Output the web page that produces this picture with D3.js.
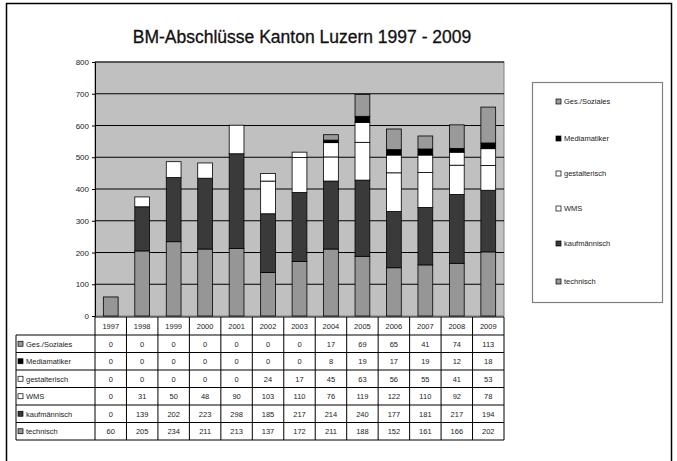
<!DOCTYPE html>
<html><head><meta charset="utf-8">
<script src="https://cdn.jsdelivr.net/npm/d3@7"></script>
<style>body{margin:0;background:#fff;}svg{display:block;font-family:"Liberation Sans",Arial,sans-serif;}</style>
</head><body>
<script>
const years = ["1997","1998","1999","2000","2001","2002","2003","2004","2005","2006","2007","2008","2009"];
const technisch   = [60, 205, 234, 211, 213, 137, 172, 211, 188, 152, 161, 166, 202];
const kaufm       = [0, 139, 202, 223, 298, 185, 217, 214, 240, 177, 181, 217, 194];
const wms         = [0, 31, 50, 48, 90, 103, 110, 76, 119, 122, 110, 92, 78];
const gestalt     = [0, 0, 0, 0, 0, 24, 17, 45, 63, 56, 55, 41, 53];
const mediamatik  = [0, 0, 0, 0, 0, 0, 0, 8, 19, 17, 19, 12, 18];
const gesSoz      = [0, 0, 0, 0, 0, 0, 0, 17, 69, 65, 41, 74, 113];
const seriesNames = ["technisch","kaufmännisch","WMS","gestalterisch","Mediamatiker","Ges./Soziales"];
const seriesVals  = [technisch, kaufm, wms, gestalt, mediamatik, gesSoz];
const yTicks = [0,100,200,300,400,500,600,700,800];
const title = "BM-Abschlüsse Kanton Luzern 1997 - 2009";

const colors = ["#969696","#3a3a3a","#ffffff","#ffffff","#000000","#9a9a9a"];

const W=677,H=461;
const svg=d3.select("body").append("svg").attr("width",W).attr("height",H);
svg.append("rect").attr("x",6.5).attr("y",3.5).attr("width",665).attr("height",470).attr("fill","#fff").attr("stroke","#000").attr("stroke-width",1.5);

const plot={l:95,r:504,t:62,b:316};
const x=d3.scaleBand().domain(years).range([plot.l,plot.r]).paddingInner(0).paddingOuter(0);
const y=d3.scaleLinear().domain([0,800]).range([plot.b,plot.t]);

svg.append("text").attr("x",302).attr("y",43).attr("text-anchor","middle").attr("font-size",17.5).attr("font-weight","normal").attr("stroke","#111").attr("stroke-width",0.3).attr("fill","#111").text(title);

svg.append("rect").attr("x",plot.l).attr("y",plot.t).attr("width",plot.r-plot.l).attr("height",plot.b-plot.t).attr("fill","#c0c0c0").attr("stroke","#808080");
svg.append("g").selectAll("line").data(yTicks.slice(1)).join("line")
  .attr("x1",plot.l).attr("x2",plot.r).attr("y1",d=>y(d)).attr("y2",d=>y(d)).attr("stroke","#000").attr("stroke-width",1);
const yAxis=d3.axisLeft(y).tickValues(yTicks).tickSize(3).tickPadding(3);
const ga=svg.append("g").attr("transform",`translate(${plot.l},0)`).call(yAxis);
ga.selectAll("text").attr("font-size",8).attr("font-family","Liberation Sans, Arial").attr("fill","#222");
ga.select(".domain").attr("stroke","#000");

const tableData = years.map((yr,i)=>{const o={year:yr};seriesNames.forEach((n,k)=>o[n]=seriesVals[k][i]);return o;});
const stack=d3.stack().keys(seriesNames)(tableData);
const bw=x.bandwidth()*0.47;
stack.forEach((s,k)=>{
  svg.append("g").selectAll("rect").data(s.filter(d=>d[1]-d[0]>0)).join("rect")
    .attr("x",d=>x(d.data.year)+(x.bandwidth()-bw)/2).attr("width",bw)
    .attr("y",d=>y(d[1])).attr("height",d=>y(d[0])-y(d[1]))
    .attr("fill",colors[k]).attr("stroke","#000").attr("stroke-width",0.8);
});

const tTop=317, hdrH=18, rowH=17.5, tLeft=16;
const rows=seriesNames.slice().reverse();
const tBottom=tTop+hdrH+rowH*rows.length;
const tg=svg.append("g");
years.forEach(yr=>{
  tg.append("text").attr("x",x(yr)+x.bandwidth()/2).attr("y",tTop+hdrH/2+3).attr("text-anchor","middle").attr("font-size",7.5).attr("fill","#222").text(yr);
});
rows.forEach((n,r)=>{
  const yy=tTop+hdrH+r*rowH;
  const k=seriesNames.indexOf(n);
  tg.append("rect").attr("x",tLeft+2).attr("y",yy+rowH/2-2.5).attr("width",5).attr("height",5).attr("fill",colors[k]).attr("stroke","#000").attr("stroke-width",0.7);
  tg.append("text").attr("x",tLeft+10).attr("y",yy+rowH/2+3).attr("font-size",7.5).attr("fill","#222").text(n);
  years.forEach((yr,i)=>{
    tg.append("text").attr("x",x(yr)+x.bandwidth()/2).attr("y",yy+rowH/2+3).attr("text-anchor","middle").attr("font-size",7.5).attr("fill","#222").text(seriesVals[k][i]);
  });
});
const hl=[tTop+hdrH].concat(rows.map((_,r)=>tTop+hdrH+(r+1)*rowH));
hl.forEach(yy=>tg.append("line").attr("x1",tLeft).attr("x2",plot.r).attr("y1",yy).attr("y2",yy).attr("stroke","#000"));
tg.append("line").attr("x1",plot.l).attr("x2",plot.r).attr("y1",tTop).attr("y2",tTop).attr("stroke","#000");
years.forEach(yr=>tg.append("line").attr("x1",x(yr)).attr("x2",x(yr)).attr("y1",tTop).attr("y2",tBottom).attr("stroke","#000"));
tg.append("line").attr("x1",plot.r).attr("x2",plot.r).attr("y1",tTop).attr("y2",tBottom).attr("stroke","#000");
tg.append("line").attr("x1",tLeft).attr("x2",tLeft).attr("y1",tTop+hdrH).attr("y2",tBottom).attr("stroke","#000");

const lg=svg.append("g");
lg.append("rect").attr("x",532.5).attr("y",82.5).attr("width",130).attr("height",220).attr("fill","#fff").attr("stroke","#808080").attr("stroke-width",1.2);
const legY=[102,139,174,209,244,282];
rows.forEach((n,r)=>{
  const k=seriesNames.indexOf(n);
  lg.append("rect").attr("x",556).attr("y",legY[r]-3).attr("width",5).attr("height",5).attr("fill",colors[k]).attr("stroke","#000").attr("stroke-width",0.7);
  lg.append("text").attr("x",564).attr("y",legY[r]+2).attr("font-size",7.5).attr("fill","#222").text(n);
});
</script>
</body></html>
